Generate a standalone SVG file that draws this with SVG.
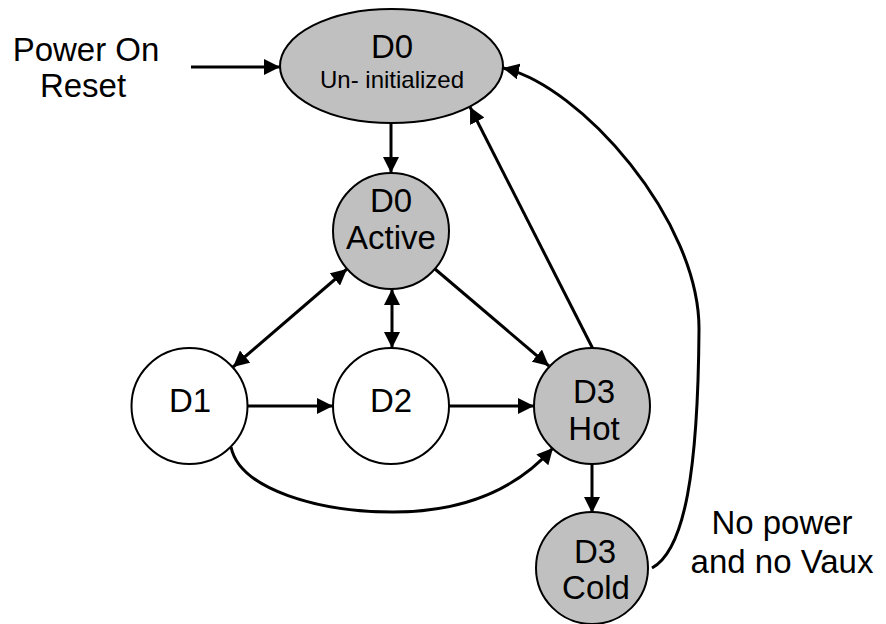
<svg xmlns="http://www.w3.org/2000/svg" width="886" height="624" viewBox="0 0 886 624">
  <defs>
    <marker id="arrow" viewBox="0 0 16 16" refX="16" refY="8" markerWidth="16" markerHeight="16" markerUnits="userSpaceOnUse" orient="auto-start-reverse">
      <path d="M0,0 L16,8 L0,16 Z" fill="#000"/>
    </marker>
  </defs>
  <style>
    .state { stroke: #000; stroke-width: 2; }
    .on { fill: #c0c0c0; }
    .off { fill: #fff; }
    .lbl { font-family: "Liberation Sans", Arial, sans-serif; font-size: 33px; fill: #000; text-anchor: middle; }
    .sub { font-size: 24px; }
    .edge { fill: none; stroke: #000; stroke-width: 3; marker-end: url(#arrow); }
    .both { marker-start: url(#arrow); }
  </style>

  <rect width="886" height="624" fill="#fff"/>

  <!-- transitions -->
  <g id="connectors">
    <line class="edge" x1="191" y1="67" x2="280" y2="67"/>
    <line class="edge" x1="391" y1="123" x2="391" y2="173"/>
    <line class="edge both" x1="347" y1="269" x2="233" y2="367"/>
    <line class="edge both" x1="392" y1="289" x2="392" y2="348"/>
    <line class="edge" x1="435" y1="269" x2="549" y2="366"/>
    <line class="edge" x1="248" y1="406" x2="333" y2="406"/>
    <line class="edge" x1="449" y1="406" x2="534" y2="406"/>
    <path class="edge" d="M231,447 C240,490 320,512 393,512 C470,512 520,485 553,448"/>
    <line class="edge" x1="593" y1="349" x2="470" y2="107"/>
    <line class="edge" x1="592" y1="463" x2="592" y2="513"/>
    <path class="edge" d="M652,568 C685,550 698,470 699,330 C700,220 580,85 503,68"/>
  </g>

  <g id="d0-uninit">
    <ellipse class="state on" cx="391.5" cy="66" rx="111.5" ry="57"/>
    <text class="lbl" x="392" y="58">D0</text>
    <text class="lbl sub" x="392" y="88">Un- initialized</text>
  </g>

  <g id="d0-active">
    <circle class="state on" cx="391" cy="231" r="58"/>
    <text class="lbl" x="391" y="212">D0</text>
    <text class="lbl" x="391" y="249">Active</text>
  </g>

  <g id="d1">
    <circle class="state off" cx="189.5" cy="406" r="58"/>
    <text class="lbl" x="190" y="412">D1</text>
  </g>

  <g id="d2">
    <circle class="state off" cx="391" cy="406" r="58"/>
    <text class="lbl" x="391" y="412">D2</text>
  </g>

  <g id="d3-hot">
    <circle class="state on" cx="592" cy="406" r="58"/>
    <text class="lbl" x="594" y="403">D3</text>
    <text class="lbl" x="594" y="440">Hot</text>
  </g>

  <g id="d3-cold">
    <circle class="state on" cx="592" cy="568" r="56"/>
    <text class="lbl" x="595" y="563">D3</text>
    <text class="lbl" x="596" y="599">Cold</text>
  </g>

  <g id="power-on-reset">
    <text class="lbl" x="86" y="61">Power On</text>
    <text class="lbl" x="83" y="97">Reset</text>
  </g>

  <g id="no-power">
    <text class="lbl" x="782" y="534">No power</text>
    <text class="lbl" x="782" y="573">and no Vaux</text>
  </g>
</svg>
